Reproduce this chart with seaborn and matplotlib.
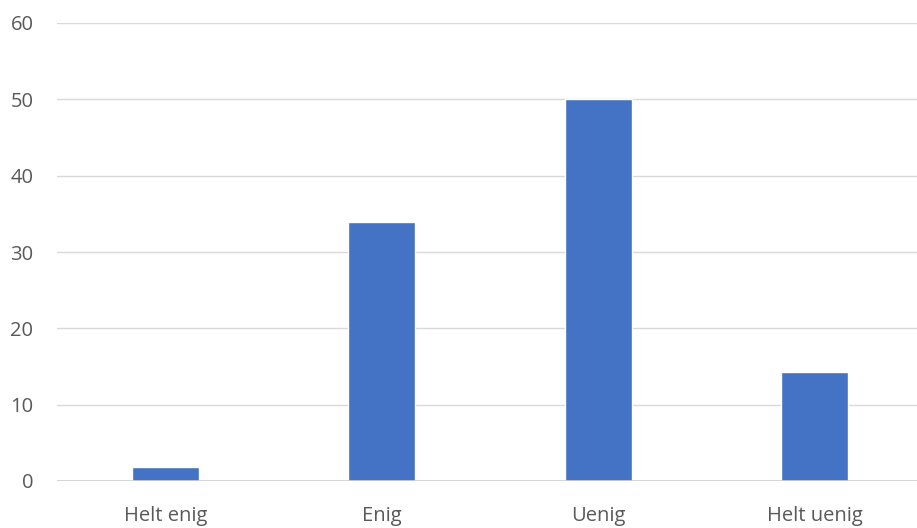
import matplotlib
matplotlib.use("Agg")
from matplotlib import pyplot as plt
import pandas as pd
import seaborn as sns

categories = ["Helt enig", "Enig", "Uenig", "Helt uenig"]
values = [1.8, 33.9, 50.0, 14.3]

df = pd.DataFrame({"svar": categories, "andel": values})

sns.set_style("white")
plt.rcParams["font.family"] = ["Open Sans", "DejaVu Sans"]

W, H = 917, 528
fig = plt.figure(figsize=(W / 100, H / 100), dpi=100)
ax = fig.add_axes([57 / W, (H - 481) / H, (W - 57) / W, (481 - 23) / H])

sns.barplot(data=df, x="svar", y="andel", color="#4472C4", width=0.31,
            saturation=1, ax=ax, zorder=3)

ax.set_ylim(0, 60)
ax.set_yticks(range(0, 61, 10))
ax.set_xlim(-0.5, -0.5 + (W - 57) / 216.5)
ax.yaxis.grid(True, color="#D9D9D9", linewidth=1, zorder=0)
ax.xaxis.grid(False)
for s in ax.spines.values():
    s.set_visible(False)
ax.axhline(0, color="#D0D0D0", linewidth=1.2, zorder=4)

ax.set_xlabel("")
ax.set_ylabel("")
ax.tick_params(axis="both", length=0, labelsize=14.5, labelcolor="#595959")
ax.tick_params(axis="y", pad=17)
ax.tick_params(axis="x", pad=18)

fig.savefig("out.png", dpi=100)
